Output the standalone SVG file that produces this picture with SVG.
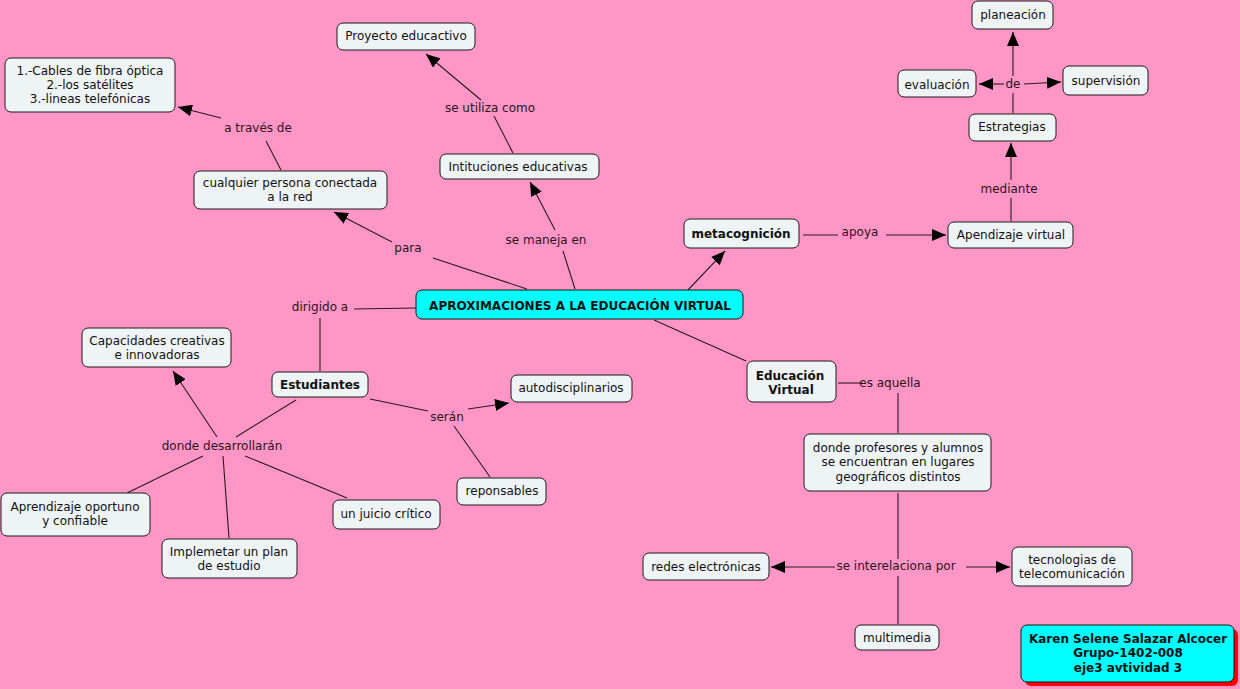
<svg xmlns="http://www.w3.org/2000/svg" width="1240" height="689" viewBox="0 0 1240 689">
<defs>
<marker id="ah" markerUnits="userSpaceOnUse" markerWidth="14" markerHeight="12" viewBox="0 0 14 12" refX="14" refY="6" orient="auto">
<path d="M0,0 L14,6 L0,12 Z" fill="#000"/>
</marker>
</defs>
<style>
.n rect{fill:#eef3f5;stroke:#1a1a1a;stroke-width:1}
.c rect{fill:#00ffff;stroke:#1a1a1a;stroke-width:1}
text{font-family:"DejaVu Sans",Verdana,sans-serif;font-size:12px;fill:#111;text-anchor:middle;dominant-baseline:central}
.b{font-weight:bold}
.l{fill:#2a1520}
#connectors path{fill:none;stroke:#2a1a20;stroke-width:1.1}
#connectors path.a{marker-end:url(#ah)}
</style>
<rect x="0" y="0" width="1240" height="689" fill="#ff96c5"/>
<g id="connectors">
<path d="M281,170 L266,141"/>
<path class="a" d="M221,118 L178,107"/>
<path d="M527,289 L433,258"/>
<path class="a" d="M392,242 L334,212"/>
<path d="M575,289 L563,251"/>
<path class="a" d="M555,230 L530,182"/>
<path d="M513,153 L494,116"/>
<path class="a" d="M481,100 L426,54"/>
<path class="a" d="M688,290 L725,251"/>
<path d="M803,235 L838,235"/>
<path class="a" d="M886,235 L946,235"/>
<path d="M1011,221 L1011,198"/>
<path class="a" d="M1011,180 L1011,143"/>
<path d="M1013,113 L1013,93"/>
<path class="a" d="M1013,76 L1013,32"/>
<path class="a" d="M1004,84 L979,84"/>
<path class="a" d="M1024,84 L1061,82"/>
<path d="M416,308 L354,309"/>
<path d="M320,318 L320,371"/>
<path d="M296,400 L236,437"/>
<path class="a" d="M217,437 L173,371"/>
<path d="M203,456 L127,493"/>
<path d="M223,456 L229,538"/>
<path d="M245,456 L347,498"/>
<path d="M370,399 L428,411"/>
<path class="a" d="M468,409 L509,403"/>
<path d="M454,426 L490,477"/>
<path d="M654,320 L746,361"/>
<path d="M838,383 L862,383"/>
<path d="M898,393 L898,433"/>
<path d="M898,493 L898,559"/>
<path class="a" d="M835,567 L771,567"/>
<path class="a" d="M966,567 L1010,567"/>
<path d="M898,576 L898,624"/>
</g>
<g id="labels">
<text class="l" x="258" y="128">a través de</text>
<text class="l" x="490" y="108">se utiliza como</text>
<text class="l" x="408" y="248">para</text>
<text class="l" x="546" y="240">se maneja en</text>
<text class="l" x="860" y="232">apoya</text>
<text class="l" x="1009" y="189">mediante</text>
<text class="l" x="1013" y="84">de</text>
<text class="l" x="320" y="307">dirigido a</text>
<text class="l" x="222" y="446">donde desarrollarán</text>
<text class="l" x="447" y="417">serán</text>
<text class="l" x="890" y="383">es aquella</text>
<text class="l" x="896" y="566">se interelaciona por</text>
</g>
<g id="n-proyecto" class="n"><rect x="337" y="23" width="138" height="27" rx="6"/><text x="406" y="36">Proyecto educactivo</text></g>
<g id="n-cables" class="n"><rect x="5" y="58" width="170" height="54" rx="6"/><text x="90" y="71">1.-Cables de fibra óptica</text><text x="90" y="85">2.-los satélites</text><text x="90" y="99">3.-lineas telefónicas</text></g>
<g id="n-cualquier" class="n"><rect x="194" y="171" width="193" height="38" rx="6"/><text x="290" y="183">cualquier persona conectada</text><text x="290" y="197">a la red</text></g>
<g id="n-intituciones" class="n"><rect x="440" y="154" width="159" height="25" rx="6"/><text x="518" y="167">Intituciones educativas</text></g>
<g id="n-metacognicion" class="n"><rect x="684" y="219" width="115" height="29" rx="6"/><text class="b" x="741" y="234">metacognición</text></g>
<g id="n-central" class="c"><rect x="416" y="290" width="327" height="29" rx="6"/><text class="b" x="580" y="306">APROXIMACIONES A LA EDUCACIÓN VIRTUAL</text></g>
<g id="n-apendizaje" class="n"><rect x="948" y="222" width="125" height="26" rx="6"/><text x="1011" y="235">Apendizaje virtual</text></g>
<g id="n-estrategias" class="n"><rect x="969" y="114" width="87" height="27" rx="6"/><text x="1012" y="127">Estrategias</text></g>
<g id="n-evaluacion" class="n"><rect x="898" y="70" width="78" height="27" rx="6"/><text x="937" y="85">evaluación</text></g>
<g id="n-supervision" class="n"><rect x="1063" y="66" width="85" height="29" rx="6"/><text x="1106" y="81">supervisión</text></g>
<g id="n-planeacion" class="n"><rect x="972" y="1" width="81" height="28" rx="6"/><text x="1013" y="15">planeación</text></g>
<g id="n-capacidades" class="n"><rect x="82" y="328" width="149" height="39" rx="6"/><text x="157" y="341">Capacidades creativas</text><text x="157" y="355">e innovadoras</text></g>
<g id="n-estudiantes" class="n"><rect x="272" y="372" width="96" height="25" rx="6"/><text class="b" x="320" y="385">Estudiantes</text></g>
<g id="n-aprendizaje" class="n"><rect x="1" y="493" width="149" height="43" rx="6"/><text x="75" y="507">Aprendizaje oportuno</text><text x="75" y="521">y confiable</text></g>
<g id="n-implemetar" class="n"><rect x="162" y="539" width="135" height="39" rx="6"/><text x="229" y="552">Implemetar un plan</text><text x="229" y="566">de estudio</text></g>
<g id="n-juicio" class="n"><rect x="333" y="500" width="107" height="29" rx="6"/><text x="386" y="514">un juicio crítico</text></g>
<g id="n-autodisciplinarios" class="n"><rect x="511" y="375" width="121" height="27" rx="6"/><text x="571" y="388">autodisciplinarios</text></g>
<g id="n-reponsables" class="n"><rect x="457" y="478" width="89" height="27" rx="6"/><text x="502" y="491">reponsables</text></g>
<g id="n-educacion" class="n"><rect x="747" y="361" width="89" height="41" rx="6"/><text class="b" x="790" y="376">Educación</text><text class="b" x="791" y="390">Virtual</text></g>
<g id="n-profesores" class="n"><rect x="804" y="434" width="187" height="57" rx="6"/><text x="898" y="448">donde profesores y alumnos</text><text x="898" y="462">se encuentran en lugares</text><text x="898" y="477">geográficos distintos</text></g>
<g id="n-redes" class="n"><rect x="643" y="553" width="126" height="27" rx="6"/><text x="706" y="567">redes electrónicas</text></g>
<g id="n-tecnologias" class="n"><rect x="1012" y="547" width="120" height="39" rx="6"/><text x="1072" y="560">tecnologias de</text><text x="1072" y="574">telecomunicación</text></g>
<g id="n-multimedia" class="n"><rect x="855" y="625" width="84" height="25" rx="6"/><text x="897" y="638">multimedia</text></g>
<g id="n-autor"><rect x="1025" y="629" width="213" height="57" rx="6" fill="#ff0000"/><rect x="1021" y="625" width="213" height="57" rx="6" fill="#00ffff" stroke="#1a1a1a"/><text class="b" x="1128" y="639">Karen Selene Salazar Alcocer</text><text class="b" x="1128" y="653">Grupo-1402-008</text><text class="b" x="1128" y="668">eje3 avtividad 3</text></g>
</svg>
